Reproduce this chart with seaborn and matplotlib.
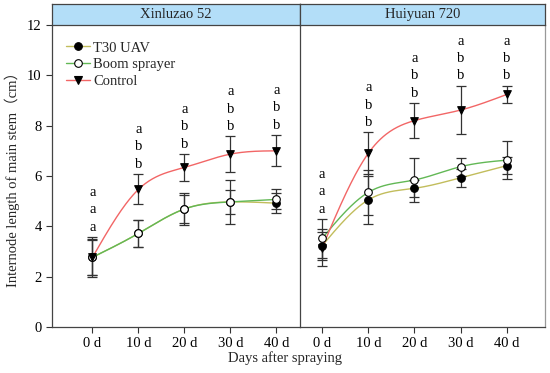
import numpy as np
import pandas as pd
import matplotlib
matplotlib.use("Agg")
import matplotlib.pyplot as plt
from matplotlib.lines import Line2D
import seaborn as sns

days = [0, 10, 20, 30, 40]
day_labels = ["0 d", "10 d", "20 d", "30 d", "40 d"]
varieties = ["Xinluzao 52", "Huiyuan 720"]
treatments = ["T30 UAV", "Boom sprayer", "Control"]

# Xinluzao 52
x52_t30 = [2.77, 3.72, 4.69, 4.97, 4.92]
x52_t30_err = [0.69, 0.55, 0.55, 0.48, 0.39]
x52_boom = [2.77, 3.72, 4.69, 4.97, 5.07]
x52_boom_err = [0.79, 0.53, 0.62, 0.86, 0.40]
x52_ctrl = [2.77, 5.47, 6.34, 6.87, 7.00]
x52_ctrl_err = [0.72, 0.60, 0.53, 0.70, 0.62]
x52_letters = [["a", "a", "a"], ["a", "b", "b"], ["a", "b", "b"], ["a", "b", "b"], ["a", "b", "b"]]

# Huiyuan 720
h720_t30 = [3.23, 5.05, 5.51, 5.93, 6.41]
h720_t30_err = [0.55, 0.96, 0.33, 0.36, 0.35]
h720_boom = [3.52, 5.35, 5.84, 6.37, 6.63]
h720_boom_err = [0.76, 0.89, 0.89, 0.36, 0.76]
h720_ctrl = [3.15, 6.90, 8.20, 8.62, 9.24]
h720_ctrl_err = [0.73, 0.83, 0.69, 0.96, 0.34]
h720_letters = [["a", "a", "a"], ["a", "b", "b"], ["a", "b", "b"], ["a", "b", "b"], ["a", "b", "b"]]

colors = {"T30 UAV": "#c2bd5c", "Boom sprayer": "#62b855", "Control": "#f26666"}
markers = {"T30 UAV": "o", "Boom sprayer": "o", "Control": "v"}
faces = {"T30 UAV": "black", "Boom sprayer": "white", "Control": "black"}

sns.set_style("ticks")
plt.rcParams["font.family"] = ["Liberation Serif", "Noto Sans CJK SC"]
plt.rcParams["font.size"] = 10


def natural_spline(x, y, xs):
    x = np.asarray(x, float)
    y = np.asarray(y, float)
    n = len(x)
    h = np.diff(x)
    A = np.zeros((n, n))
    r = np.zeros(n)
    A[0, 0] = 1
    A[-1, -1] = 1
    for i in range(1, n - 1):
        A[i, i - 1] = h[i - 1]
        A[i, i] = 2 * (h[i - 1] + h[i])
        A[i, i + 1] = h[i]
        r[i] = 6 * ((y[i + 1] - y[i]) / h[i] - (y[i] - y[i - 1]) / h[i - 1])
    M = np.linalg.solve(A, r)
    out = np.empty_like(xs)
    for k, xv in enumerate(xs):
        i = min(np.searchsorted(x, xv, side="right") - 1, n - 2)
        i = max(i, 0)
        t1 = x[i + 1] - xv
        t0 = xv - x[i]
        hi = h[i]
        out[k] = (M[i] * t1 ** 3 / (6 * hi) + M[i + 1] * t0 ** 3 / (6 * hi)
                  + (y[i] / hi - M[i] * hi / 6) * t1 + (y[i + 1] / hi - M[i + 1] * hi / 6) * t0)
    return out


fig = plt.figure(figsize=(5.5, 3.73), dpi=100)
W, H = 550, 373


def fr(x0, y0, x1, y1):
    return [x0 / W, 1 - y1 / H, (x1 - x0) / W, (y1 - y0) / H]


ax1 = fig.add_axes(fr(52, 25, 299.5, 327))
ax2 = fig.add_axes(fr(299.5, 25, 545, 327))
hd1 = fig.add_axes(fr(52, 4, 299.5, 25))
hd2 = fig.add_axes(fr(299.5, 4, 545, 25))

panels = [
    (ax1, hd1, varieties[0], (-8.8, 45),
     {"T30 UAV": (x52_t30, x52_t30_err), "Boom sprayer": (x52_boom, x52_boom_err),
      "Control": (x52_ctrl, x52_ctrl_err)}, x52_letters),
    (ax2, hd2, varieties[1], (-4.9, 48.3),
     {"T30 UAV": (h720_t30, h720_t30_err), "Boom sprayer": (h720_boom, h720_boom_err),
      "Control": (h720_ctrl, h720_ctrl_err)}, h720_letters),
]

for ax, hd, title, xlim, series, letters in panels:
    xs = np.linspace(days[0], days[-1], 200)
    for tr in treatments:
        vals, errs = series[tr]
        ys = natural_spline(days, vals, xs)
        sns.lineplot(x=xs, y=ys, ax=ax, color=colors[tr], lw=1.0, zorder=2, legend=False)
    for tr in treatments:
        vals, errs = series[tr]
        ax.errorbar(days, vals, yerr=errs, fmt="none", ecolor="#333333", elinewidth=0.9,
                    capsize=3.6, capthick=0.9, zorder=3)
    for tr in treatments:
        vals, errs = series[tr]
        df = pd.DataFrame({"d": days, "v": vals})
        sns.scatterplot(data=df, x="d", y="v", ax=ax, marker=markers[tr], s=30,
                        color=faces[tr], edgecolor="black", linewidth=0.8, zorder=4, legend=False)
    for i, d in enumerate(days):
        top = max(series[tr][0][i] + series[tr][1][i] for tr in treatments)
        for j, lt in enumerate(letters[i][::-1]):
            ax.text(d, top + 0.4 + j * 0.69, lt, ha="center", va="center", fontsize=10.5, color="black")
    ax.set_xlim(*xlim)
    ax.set_ylim(0, 12)
    ax.set_xticks(days)
    ax.set_xticklabels(day_labels, fontsize=10.5)
    ax.set_xlabel("")
    ax.set_ylabel("")
    ax.tick_params(axis="both", direction="out", length=4, width=0.8, colors="#333333", labelcolor="black")
    for sp in ax.spines.values():
        sp.set_color("#444444")
        sp.set_linewidth(0.9)
    ax.spines["top"].set_visible(False)
    hd.set_facecolor("#b3def8")
    hd.set_xticks([])
    hd.set_yticks([])
    for sp in hd.spines.values():
        sp.set_color("#444444")
        sp.set_linewidth(0.9)
    hd.text(0.5, 0.5, title, ha="center", va="center", fontsize=10.5, transform=hd.transAxes)

ax1.set_yticks([0, 2, 4, 6, 8, 10, 12])
ax1.set_yticklabels(["0", "2", "4", "6", "8", "10", "12"], fontsize=10.5)
ax1.spines["right"].set_visible(False)
ax2.set_yticks([])
ax2.spines["left"].set_visible(True)
ax2.spines["right"].set_color("#999999")

handles = [Line2D([], [], color=colors[tr], lw=1.0, marker=markers[tr], markersize=5.5,
                  markerfacecolor=faces[tr], markeredgecolor="black", markeredgewidth=0.8)
           for tr in treatments]
ax1.legend(handles, treatments, loc="upper left", bbox_to_anchor=(0.02, 0.975), frameon=False,
           fontsize=10.5, handlelength=1.7, handletextpad=0.2, labelspacing=0.25, borderaxespad=0.2)

fig.text(285 / W, 1 - 358 / H, "Days after spraying", ha="center", va="center", fontsize=10.5)
fig.text(12 / W, 1 - 176 / H, "Internode length of main stem（cm）", ha="center", va="center",
         rotation=90, fontsize=10.5)

fig.savefig("out.png", dpi=100)
